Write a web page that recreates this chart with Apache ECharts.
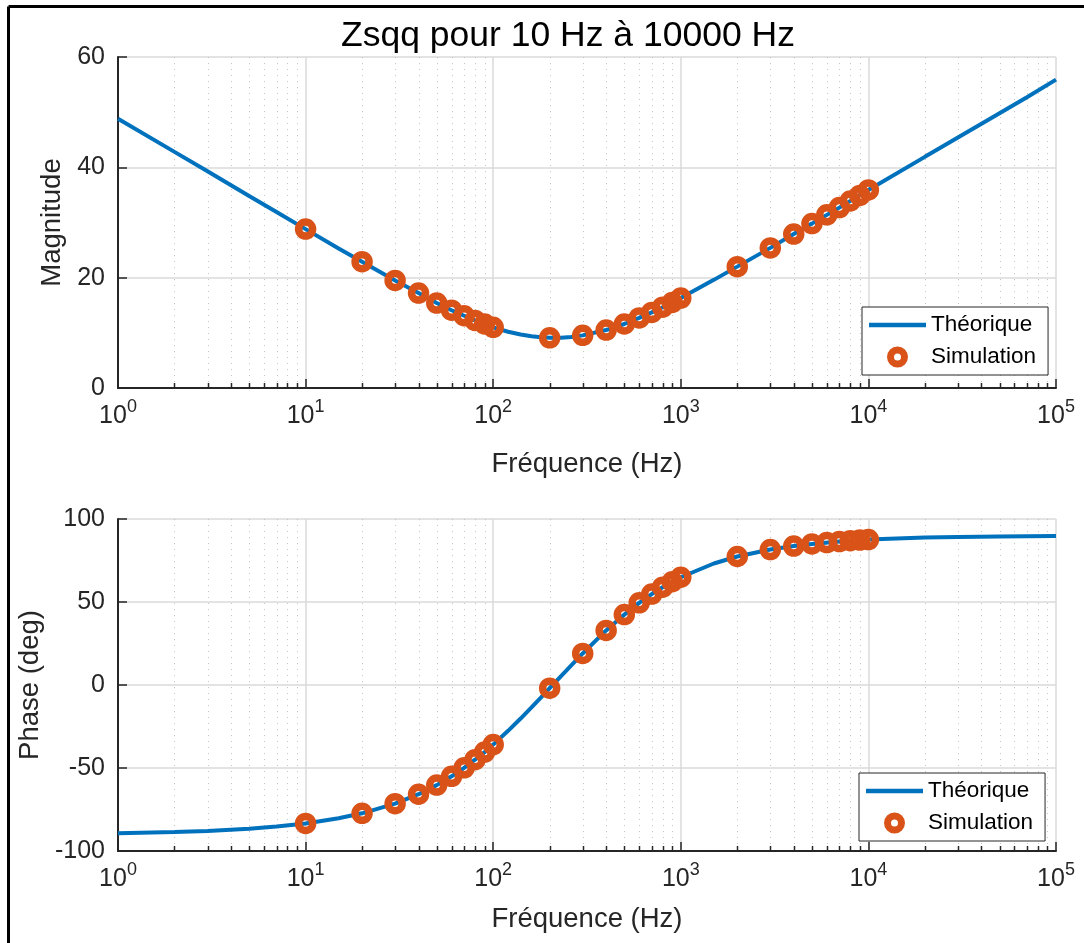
<!DOCTYPE html>
<html><head><meta charset="utf-8">
<script src="https://cdn.jsdelivr.net/npm/echarts@6/dist/echarts.min.js"></script>
<style>html,body{margin:0;padding:0;background:#fff}#c{width:1084px;height:943px}</style>
</head><body><div id="c"></div><script>
// Theoretical curve samples
const lineFreq = [1,2,3,5,7,10,15,20,30,40,50,60,70,80,90,100,120,140,160,180,200,230,260,300,400,500,600,700,800,900,1000,1500,2000,3000,4000,5000,7000,10000,20000,30000,50000,70000,100000];
const lineMag = [48.8,42.8,39.3,34.8,31.9,28.8,25.3,22.9,19.5,17.2,15.4,14.1,13.1,12.25,11.6,11.0,10.2,9.7,9.37,9.19,9.1,9.12,9.25,9.54,10.5,11.6,12.7,13.7,14.65,15.5,16.3,19.6,22.0,25.4,27.9,29.8,32.7,35.9,41.9,45.4,49.8,52.7,55.9];
const linePhase = [-89.3,-88.6,-87.9,-86.6,-85.3,-83.4,-80.3,-77.3,-71.5,-65.8,-60.3,-55.0,-49.9,-45.0,-40.4,-35.9,-27.6,-20.2,-13.5,-7.4,-1.9,5.4,11.7,19.0,32.9,42.4,49.5,54.8,58.9,62.2,64.9,73.2,77.4,81.6,83.7,85.0,86.4,87.6,88.8,89.2,89.5,89.65,89.75];
// Simulation points
const simFreq = [10,20,30,40,50,60,70,80,90,100,200,300,400,500,600,700,800,900,1000,2000,3000,4000,5000,6000,7000,8000,9000,10000];
const simMag = [28.8,22.9,19.5,17.2,15.4,14.1,13.1,12.25,11.6,11.0,9.1,9.54,10.5,11.6,12.7,13.7,14.65,15.5,16.3,22.0,25.4,27.9,29.8,31.4,32.7,33.9,34.9,35.9];
const simPhase = [-83.4,-77.3,-71.5,-65.8,-60.3,-55.0,-49.9,-45.0,-40.4,-35.9,-1.9,19.0,32.9,42.4,49.5,54.8,58.9,62.2,64.9,77.4,81.6,83.7,85.0,85.8,86.4,86.9,87.3,87.6];
// Minor log ticks
const minorFreq = [2,3,4,5,6,7,8,9,20,30,40,50,60,70,80,90,200,300,400,500,600,700,800,900,2000,3000,4000,5000,6000,7000,8000,9000,20000,30000,40000,50000,60000,70000,80000,90000];
const titleText = 'Zsqq pour 10 Hz à 10000 Hz';
const xName = 'Fréquence (Hz)';
const yNames = ['Magnitude', 'Phase (deg)'];
const seriesNames = ['Théorique', 'Simulation'];

const FONT = "'Liberation Sans', Arial, Helvetica, sans-serif";
const TXT = '#262626';
const AX = '#262626';
const BLUE = '#0072BD';
const ORANGE = '#D95319';

function xAxisCfg(gi, gap) {
  return {
    type: 'log', logBase: 10, min: 1, max: 100000, gridIndex: gi, splitNumber: 5,
    name: xName, nameLocation: 'middle', nameGap: gap,
    nameTextStyle: {fontFamily: FONT, fontSize: 27.5, color: TXT},
    axisLine: {show: true, onZero: false, lineStyle: {color: AX, width: 2}},
    axisTick: {show: true, inside: true, length: 9, lineStyle: {color: AX, width: 1.5}},
    axisLabel: {
      margin: 10,
      formatter: v => '{b|10}{s|' + Math.round(Math.log10(v)) + '}',
      rich: {
        b: {fontSize: 25, fontFamily: FONT, color: TXT, lineHeight: 36},
        s: {fontSize: 18, fontFamily: FONT, color: TXT, lineHeight: 14, verticalAlign: 'top'}
      }
    },
    splitLine: {show: true, lineStyle: {color: '#dadada', width: 1.5}}
  };
}
function yAxisCfg(gi, min, max, interval, name, gap) {
  return {
    type: 'value', gridIndex: gi, min: min, max: max, interval: interval,
    name: name, nameLocation: 'middle', nameGap: gap,
    nameTextStyle: {fontFamily: FONT, fontSize: 27.5, color: TXT},
    axisLine: {show: true, onZero: false, lineStyle: {color: AX, width: 2}},
    axisTick: {show: true, inside: true, length: 9, lineStyle: {color: AX, width: 1.5}},
    axisLabel: {margin: 13, fontFamily: FONT, fontSize: 25, color: TXT},
    splitLine: {show: true, lineStyle: {color: '#dadada', width: 1.5}}
  };
}
function minorSeries(idx, ymin) {
  return {
    type: 'custom', xAxisIndex: idx, yAxisIndex: idx, silent: true, z: 1,
    data: minorFreq.map(f => [f, ymin]),
    renderItem: (params, api) => {
      const cs = params.coordSys;
      const x = Math.round(api.coord([api.value(0), api.value(1)])[0]) + 0.5;
      const bottom = cs.y + cs.height;
      return {type: 'group', children: [
        {type: 'line', shape: {x1: x, y1: cs.y, x2: x, y2: bottom}, style: {stroke: '#c4c4c4', lineWidth: 1, lineDash: [1, 5]}},
        {type: 'line', shape: {x1: x, y1: bottom, x2: x, y2: bottom - 5}, style: {stroke: AX, lineWidth: 1.5}, z2: 10}
      ]};
    }
  };
}
function legendCfg(left, top) {
  return {
    left: left, top: top, orient: 'vertical',
    data: [
      {name: seriesNames[0], icon: 'path://M0,0 H40 V3 H0 Z', itemStyle: {color: BLUE}, lineStyle: {color: BLUE, width: 4}},
      {name: seriesNames[1], icon: 'circle', itemStyle: {color: 'rgba(255,255,255,0)', borderColor: ORANGE, borderWidth: 7}}
    ],
    backgroundColor: '#fff', borderColor: AX, borderWidth: 1, borderRadius: 0,
    padding: [6, 12, 6, 7], itemGap: 8, itemWidth: 57, itemHeight: 14,
    textStyle: {fontFamily: FONT, fontSize: 22.5, color: '#000', lineHeight: 24},
    selectedMode: false
  };
}
const lineStyleSeries = (idx, ys) => ({
  name: seriesNames[0], type: 'line', xAxisIndex: idx, yAxisIndex: idx,
  data: lineFreq.map((f, i) => [f, ys[i]]),
  symbol: 'none', smooth: false, z: 3,
  lineStyle: {color: BLUE, width: 4}, itemStyle: {color: BLUE}
});
const simSeries = (idx, ys) => ({
  name: seriesNames[1], type: 'scatter', xAxisIndex: idx, yAxisIndex: idx,
  data: simFreq.map((f, i) => [f, ys[i]]),
  symbol: 'circle', symbolSize: 14, z: 4,
  itemStyle: {color: 'rgba(255,255,255,0)', borderColor: ORANGE, borderWidth: 7.5, opacity: 1}
});

const chart = echarts.init(document.getElementById('c'), null, {renderer: 'canvas'});
chart.setOption({
  animation: false,
  backgroundColor: '#fff',
  title: {text: titleText, left: 563, top: 13, textAlign: 'center',
    textStyle: {fontFamily: FONT, fontSize: 35.5, fontWeight: 'normal', color: '#000'}},
  grid: [
    {left: 118, top: 57, width: 938, height: 331},
    {left: 118, top: 519, width: 938, height: 332}
  ],
  xAxis: [xAxisCfg(0, 62), xAxisCfg(1, 54)],
  yAxis: [yAxisCfg(0, 0, 60, 20, yNames[0], 42), yAxisCfg(1, -100, 100, 50, yNames[1], 66)],
  legend: [legendCfg(862, 307), legendCfg(859, 773)],
  series: [
    minorSeries(0, 0), minorSeries(1, -100),
    lineStyleSeries(0, lineMag), simSeries(0, simMag),
    lineStyleSeries(1, linePhase), simSeries(1, simPhase)
  ],
  graphic: [
    {type: 'line', shape: {x1: 8.5, y1: 6.5, x2: 1084, y2: 6.5}, style: {stroke: '#000', lineWidth: 3}, z: 100},
    {type: 'line', shape: {x1: 8.5, y1: 6.5, x2: 8.5, y2: 943}, style: {stroke: '#000', lineWidth: 3}, z: 100}
  ]
});
</script></body></html>
